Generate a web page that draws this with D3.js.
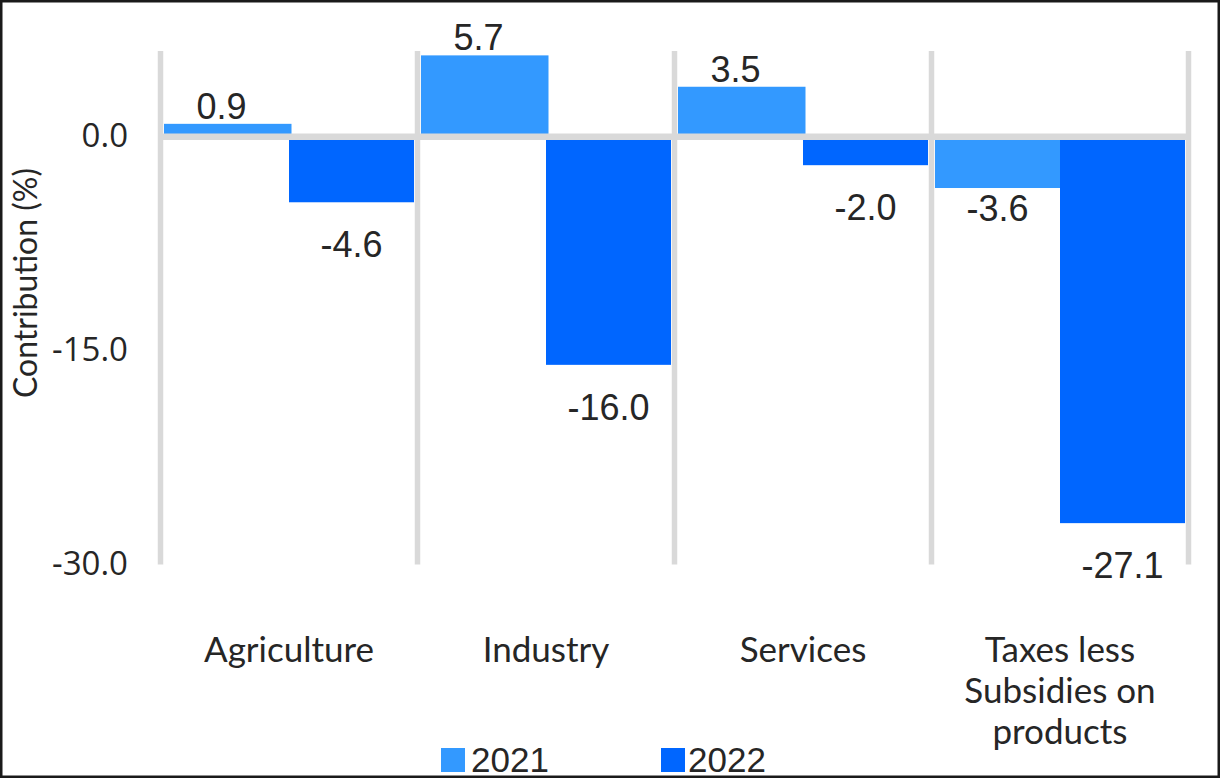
<!DOCTYPE html>
<html>
<head>
<meta charset="utf-8">
<script src="https://cdn.jsdelivr.net/npm/d3@7"></script>
<style>
  html, body { margin: 0; padding: 0; background: #fff; }
  svg { display: block; }
</style>
</head>
<body>
<svg id="chart" width="1222" height="779"></svg>
<script>
// Contribution to growth by sector, 2021 vs 2022
const categories = ["Agriculture", "Industry", "Services", "Taxes less Subsidies on products"];
const categoryLines = [["Agriculture"], ["Industry"], ["Services"], ["Taxes less", "Subsidies on", "products"]];
const seriesNames = ["2021", "2022"];
const values2021 = [0.9, 5.7, 3.5, -3.6];
const values2022 = [-4.6, -16.0, -2.0, -27.1];
const yTicks = [0, -15, -30];
const yDomain = [-30, 6];

const colors = { "2021": "#3399ff", "2022": "#0066ff" };
const labelGap = { "2021": 7, "2022": 29 };
const textColor = "#262626";
const gridColor = "#d9d9d9";

const svg = d3.select("#chart");

// outer frame
svg.append("rect")
  .attr("x", 1.25).attr("y", 1.25)
  .attr("width", 1217.5).attr("height", 775.5)
  .attr("fill", "#fff").attr("stroke", "#1a1a1a").attr("stroke-width", 2.5);

const plot = { left: 160.5, right: 1188.5, top: 51.1, bottom: 564.5 };

const x0 = d3.scaleBand().domain(categories).range([plot.left, plot.right]).padding(0);
const x1 = d3.scaleBand().domain(seriesNames).range([0, x0.bandwidth()]).paddingInner(0).paddingOuter(0.028);
const y = d3.scaleLinear().domain(yDomain).range([plot.bottom, plot.top]);

const rows = categories.map((c, i) => ({
  category: c,
  values: [
    { series: "2021", value: values2021[i] },
    { series: "2022", value: values2022[i] }
  ]
}));

// bars
const groups = svg.append("g").selectAll("g")
  .data(rows).join("g")
  .attr("transform", d => `translate(${x0(d.category)},0)`);

groups.selectAll("rect")
  .data(d => d.values).join("rect")
  .attr("x", d => x1(d.series))
  .attr("width", d => x1.bandwidth() + (d.series === "2021" ? 2.5 : 0))
  .attr("y", d => y(Math.max(0, d.value)))
  .attr("height", d => Math.abs(y(d.value) - y(0)))
  .attr("fill", d => colors[d.series]);

// vertical category gridlines
const edges = categories.map(c => x0(c)).concat([plot.right]);
svg.append("g").selectAll("line")
  .data(edges).join("line")
  .attr("x1", d => d).attr("x2", d => d)
  .attr("y1", y(yDomain[1])).attr("y2", y(yDomain[0]))
  .attr("stroke", gridColor).attr("stroke-width", 5.5);

// zero line
svg.append("line")
  .attr("x1", plot.left).attr("x2", plot.right)
  .attr("y1", y(0)).attr("y2", y(0))
  .attr("stroke", gridColor).attr("stroke-width", 6.5);

// number format with a plain hyphen for negatives
const locale = d3.formatLocale({ decimal: ".", thousands: ",", grouping: [3], currency: ["", ""], minus: "-" });
const fmt = locale.format(".1f");

// value labels
groups.selectAll("text.value")
  .data(d => d.values).join("text")
  .attr("class", "value")
  .attr("x", d => x1(d.series) + x1.bandwidth() / 2 - (d.value >= 0 ? 5 : 0))
  .attr("y", d => d.value >= 0 ? y(d.value) - 5 : y(d.value) + labelGap[d.series] + 26)
  .attr("text-anchor", "middle")
  .attr("font-family", "'Liberation Sans', Arial, sans-serif")
  .attr("font-size", 36)
  .attr("fill", textColor)
  .text(d => fmt(d.value));

// y axis tick labels
const yAxis = d3.axisLeft(y).tickValues(yTicks).tickFormat(fmt).tickSize(0).tickPadding(0);
const yg = svg.append("g").attr("transform", "translate(128,0)").call(yAxis);
yg.select(".domain").remove();
yg.selectAll("text")
  .attr("dy", null)
  .attr("y", 10)
  .attr("font-family", "'Open Sans', 'Noto Sans', sans-serif")
  .attr("font-size", 33)
  .attr("fill", textColor);

// y axis title
svg.append("text")
  .attr("transform", "translate(37,283) rotate(-90)")
  .attr("text-anchor", "middle")
  .attr("font-family", "Lato, sans-serif")
  .attr("font-size", 32)
  .attr("fill", textColor)
  .text("Contribution (%)");

// category labels
const catG = svg.append("g").selectAll("text")
  .data(categories).join("text")
  .attr("x", d => x0(d) + x0.bandwidth() / 2)
  .attr("y", 662)
  .attr("text-anchor", "middle")
  .attr("font-family", "Lato, sans-serif")
  .attr("font-size", 35)
  .attr("fill", textColor);
catG.selectAll("tspan")
  .data((d, i) => categoryLines[i]).join("tspan")
  .attr("x", function () { return d3.select(this.parentNode).attr("x"); })
  .attr("dy", (d, i) => i === 0 ? 0 : 41)
  .text(d => d);

// legend
const legendPos = [{ sx: 441, tx: 471 }, { sx: 661, tx: 688 }];
const leg = svg.append("g").selectAll("g")
  .data(seriesNames).join("g");
leg.append("rect")
  .attr("x", (d, i) => legendPos[i].sx).attr("y", 748)
  .attr("width", 24).attr("height", 24)
  .attr("fill", d => colors[d]);
leg.append("text")
  .attr("x", (d, i) => legendPos[i].tx).attr("y", 772)
  .attr("font-family", "'Liberation Sans', Arial, sans-serif")
  .attr("font-size", 35)
  .attr("fill", textColor)
  .text(d => d);
</script>
</body>
</html>
